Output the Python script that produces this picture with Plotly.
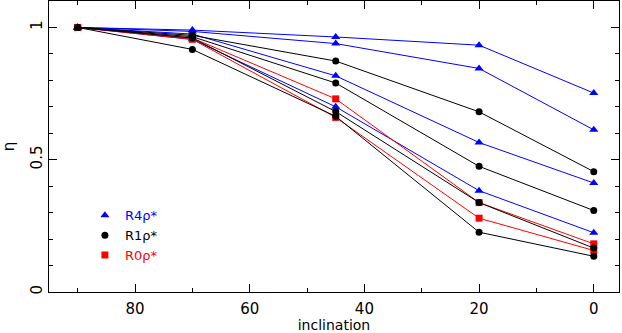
import plotly.graph_objects as go

incl = [90, 70, 45, 20, 0]

# R4rho* (blue triangles)
R4_a = [1.0, 0.990, 0.964, 0.933, 0.752]
R4_b = [1.0, 0.985, 0.939, 0.845, 0.613]
R4_c = [1.0, 0.975, 0.817, 0.565, 0.412]
R4_d = [1.0, 0.955, 0.700, 0.383, 0.224]
# R1rho* (black circles)
R1_a = [1.0, 0.970, 0.873, 0.681, 0.455]
R1_b = [1.0, 0.965, 0.790, 0.475, 0.308]
R1_c = [1.0, 0.960, 0.682, 0.338, 0.166]
R1_d = [1.0, 0.917, 0.664, 0.226, 0.135]
# R0rho* (red squares)
R0_a = [1.0, 0.960, 0.730, 0.338, 0.182]
R0_b = [1.0, 0.955, 0.660, 0.279, 0.157]

y_ticks = [0, 0.5, 1]
y_ticklabels = ["0", "0.5", "1"]
x_ticks = [80, 60, 40, 20, 0]

groups = [
    ("R4ρ*", "#0000ff", "triangle-up", 8, [R4_a, R4_b, R4_c, R4_d]),
    ("R0ρ*", "#ff0000", "square", 7, [R0_a, R0_b]),
    ("R1ρ*", "#000000", "circle", 7, [R1_a, R1_b, R1_c, R1_d]),
]

fig = go.Figure()
for name, col, sym, size, series in groups:
    for s in series:
        fig.add_trace(go.Scatter(
            x=incl, y=s, mode="lines+markers",
            line=dict(color=col, width=1),
            marker=dict(color=col, symbol=sym, size=size),
            showlegend=False, hoverinfo="skip"))

# legend entries (marker only)
for name, col, sym, size, series in [groups[0], groups[2], groups[1]]:
    fig.add_trace(go.Scatter(
        x=[None], y=[None], mode="markers",
        marker=dict(color=col, symbol=sym, size=size),
        name=f"<span style='color:{col}'>{name}</span>"))

font_family = "DejaVu Sans, Liberation Sans, sans-serif"
fig.update_layout(
    width=622, height=333,
    margin=dict(l=49, r=3, t=1, b=41),
    paper_bgcolor="white", plot_bgcolor="white",
    font=dict(family=font_family, size=14, color="black"),
    showlegend=True,
    legend=dict(x=0.063, y=0.315, xanchor="left", yanchor="top",
                bgcolor="rgba(0,0,0,0)", font=dict(size=13),
                tracegroupgap=0, itemwidth=30),
    xaxis=dict(
        range=[95, -4.4], tickmode="array", tickvals=x_ticks,
        ticks="inside", ticklen=8, tickcolor="black", tickwidth=1,
        showline=True, linecolor="black", linewidth=1, mirror="allticks",
        showgrid=False, zeroline=False, automargin=False,
        ticklabelstandoff=3, tickfont=dict(size=15),
        minor=dict(dtick=10, tick0=0, ticks="inside", ticklen=4, tickcolor="black", showgrid=False),
        title=dict(text="inclination", standoff=6, font=dict(size=14)),
    ),
    yaxis=dict(
        range=[0, 1.1], tickmode="array", tickvals=y_ticks, ticktext=y_ticklabels,
        tickangle=-90,
        ticks="inside", ticklen=8, tickcolor="black", tickwidth=1,
        showline=True, linecolor="black", linewidth=1, mirror="allticks",
        showgrid=False, zeroline=False, automargin=False,
        ticklabelstandoff=0, tickfont=dict(size=15),
        minor=dict(dtick=0.1, tick0=0, ticks="inside", ticklen=4, tickcolor="black", showgrid=False),
        title=dict(text="η", standoff=13, font=dict(size=15)),
    ),
)

fig.write_html("out.html", config={"displayModeBar": False},
               post_script="document.body.style.margin='0';document.body.style.overflow='hidden';")
